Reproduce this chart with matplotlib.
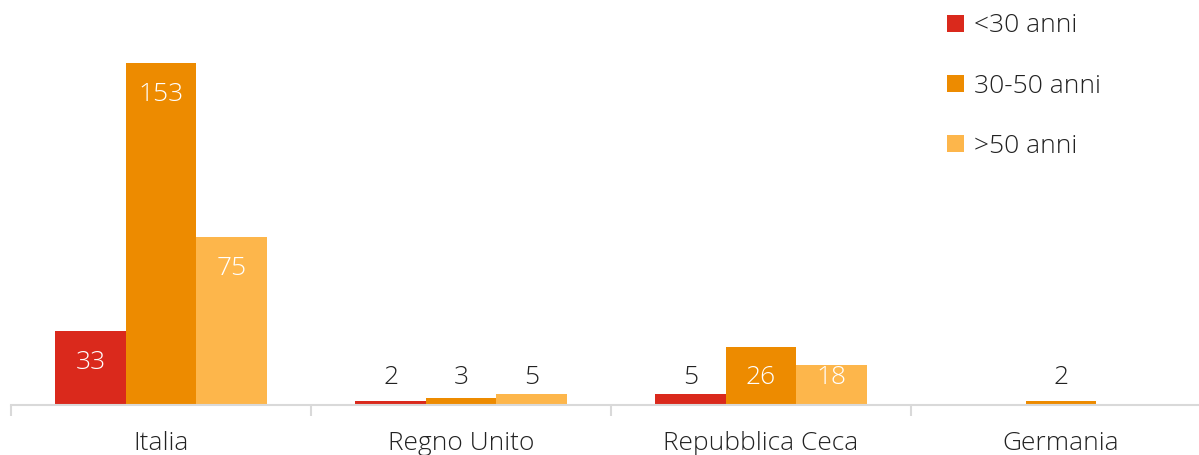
import matplotlib
matplotlib.use("Agg")
import matplotlib.pyplot as plt
import numpy as np

categories = ["Italia", "Regno Unito", "Repubblica Ceca", "Germania"]
series_names = ["<30 anni", "30-50 anni", ">50 anni"]
under30 = [33, 2, 5, 0]
mid = [153, 3, 26, 2]
over50 = [75, 5, 18, 0]
series = [under30, mid, over50]
colors = ["#DA291C", "#ED8B00", "#FDB64B"]

plt.rcParams['font.family'] = ['Open Sans', 'DejaVu Sans']
FS = 19
TXT = "#222222"

fig = plt.figure(figsize=(11.99, 4.55), dpi=100)
# one category = 300 px; axes runs past the right edge of the figure
ax = fig.add_axes([11/1199, 50/455, 1200/1199, 405/455])
ymax = 181.2
ax.set_ylim(0, ymax)
px = ymax / 405.0  # data units per pixel

x = np.arange(len(categories))
w = 0.2345
inside_threshold = 15
for i, (vals, c, name) in enumerate(zip(series, colors, series_names)):
    pos = x + (i - 1) * w
    ax.bar(pos, vals, width=w, color=c, label=name, zorder=2)
    for xb, v in zip(pos, vals):
        if v == 0:
            continue
        ylab = max(v - 31 * px, 28 * px)
        col = "white" if v >= inside_threshold else TXT
        ax.text(xb, ylab, str(v), ha="center", va="center", color=col,
                fontsize=FS, fontweight="light", zorder=3)

ax.set_xlim(-0.5, 3.5)
ax.set_yticks([])
for s in ["top", "right", "left"]:
    ax.spines[s].set_visible(False)
ax.spines["bottom"].set_color("#D9D9D9")
ax.spines["bottom"].set_linewidth(1.5)
ax.set_xticks(x)
ax.set_xticklabels(categories, fontsize=FS, color=TXT, fontweight="light")
ax.tick_params(axis="x", which="major", length=0, pad=19)
ax.set_xticks(np.arange(-0.5, 3.6, 1.0), minor=True)
ax.tick_params(axis="x", which="minor", length=8, width=1.5, color="#D9D9D9", direction="out")

leg = fig.legend(loc="upper left", bbox_to_anchor=(929/1199, 1.0 + 5/455), frameon=False,
                 prop={"size": FS, "weight": "light"}, handlelength=0.62, handleheight=0.62,
                 handletextpad=0.38, labelspacing=1.33, borderaxespad=0.3)
for t in leg.get_texts():
    t.set_color(TXT)

fig.savefig("out.png", dpi=100)
